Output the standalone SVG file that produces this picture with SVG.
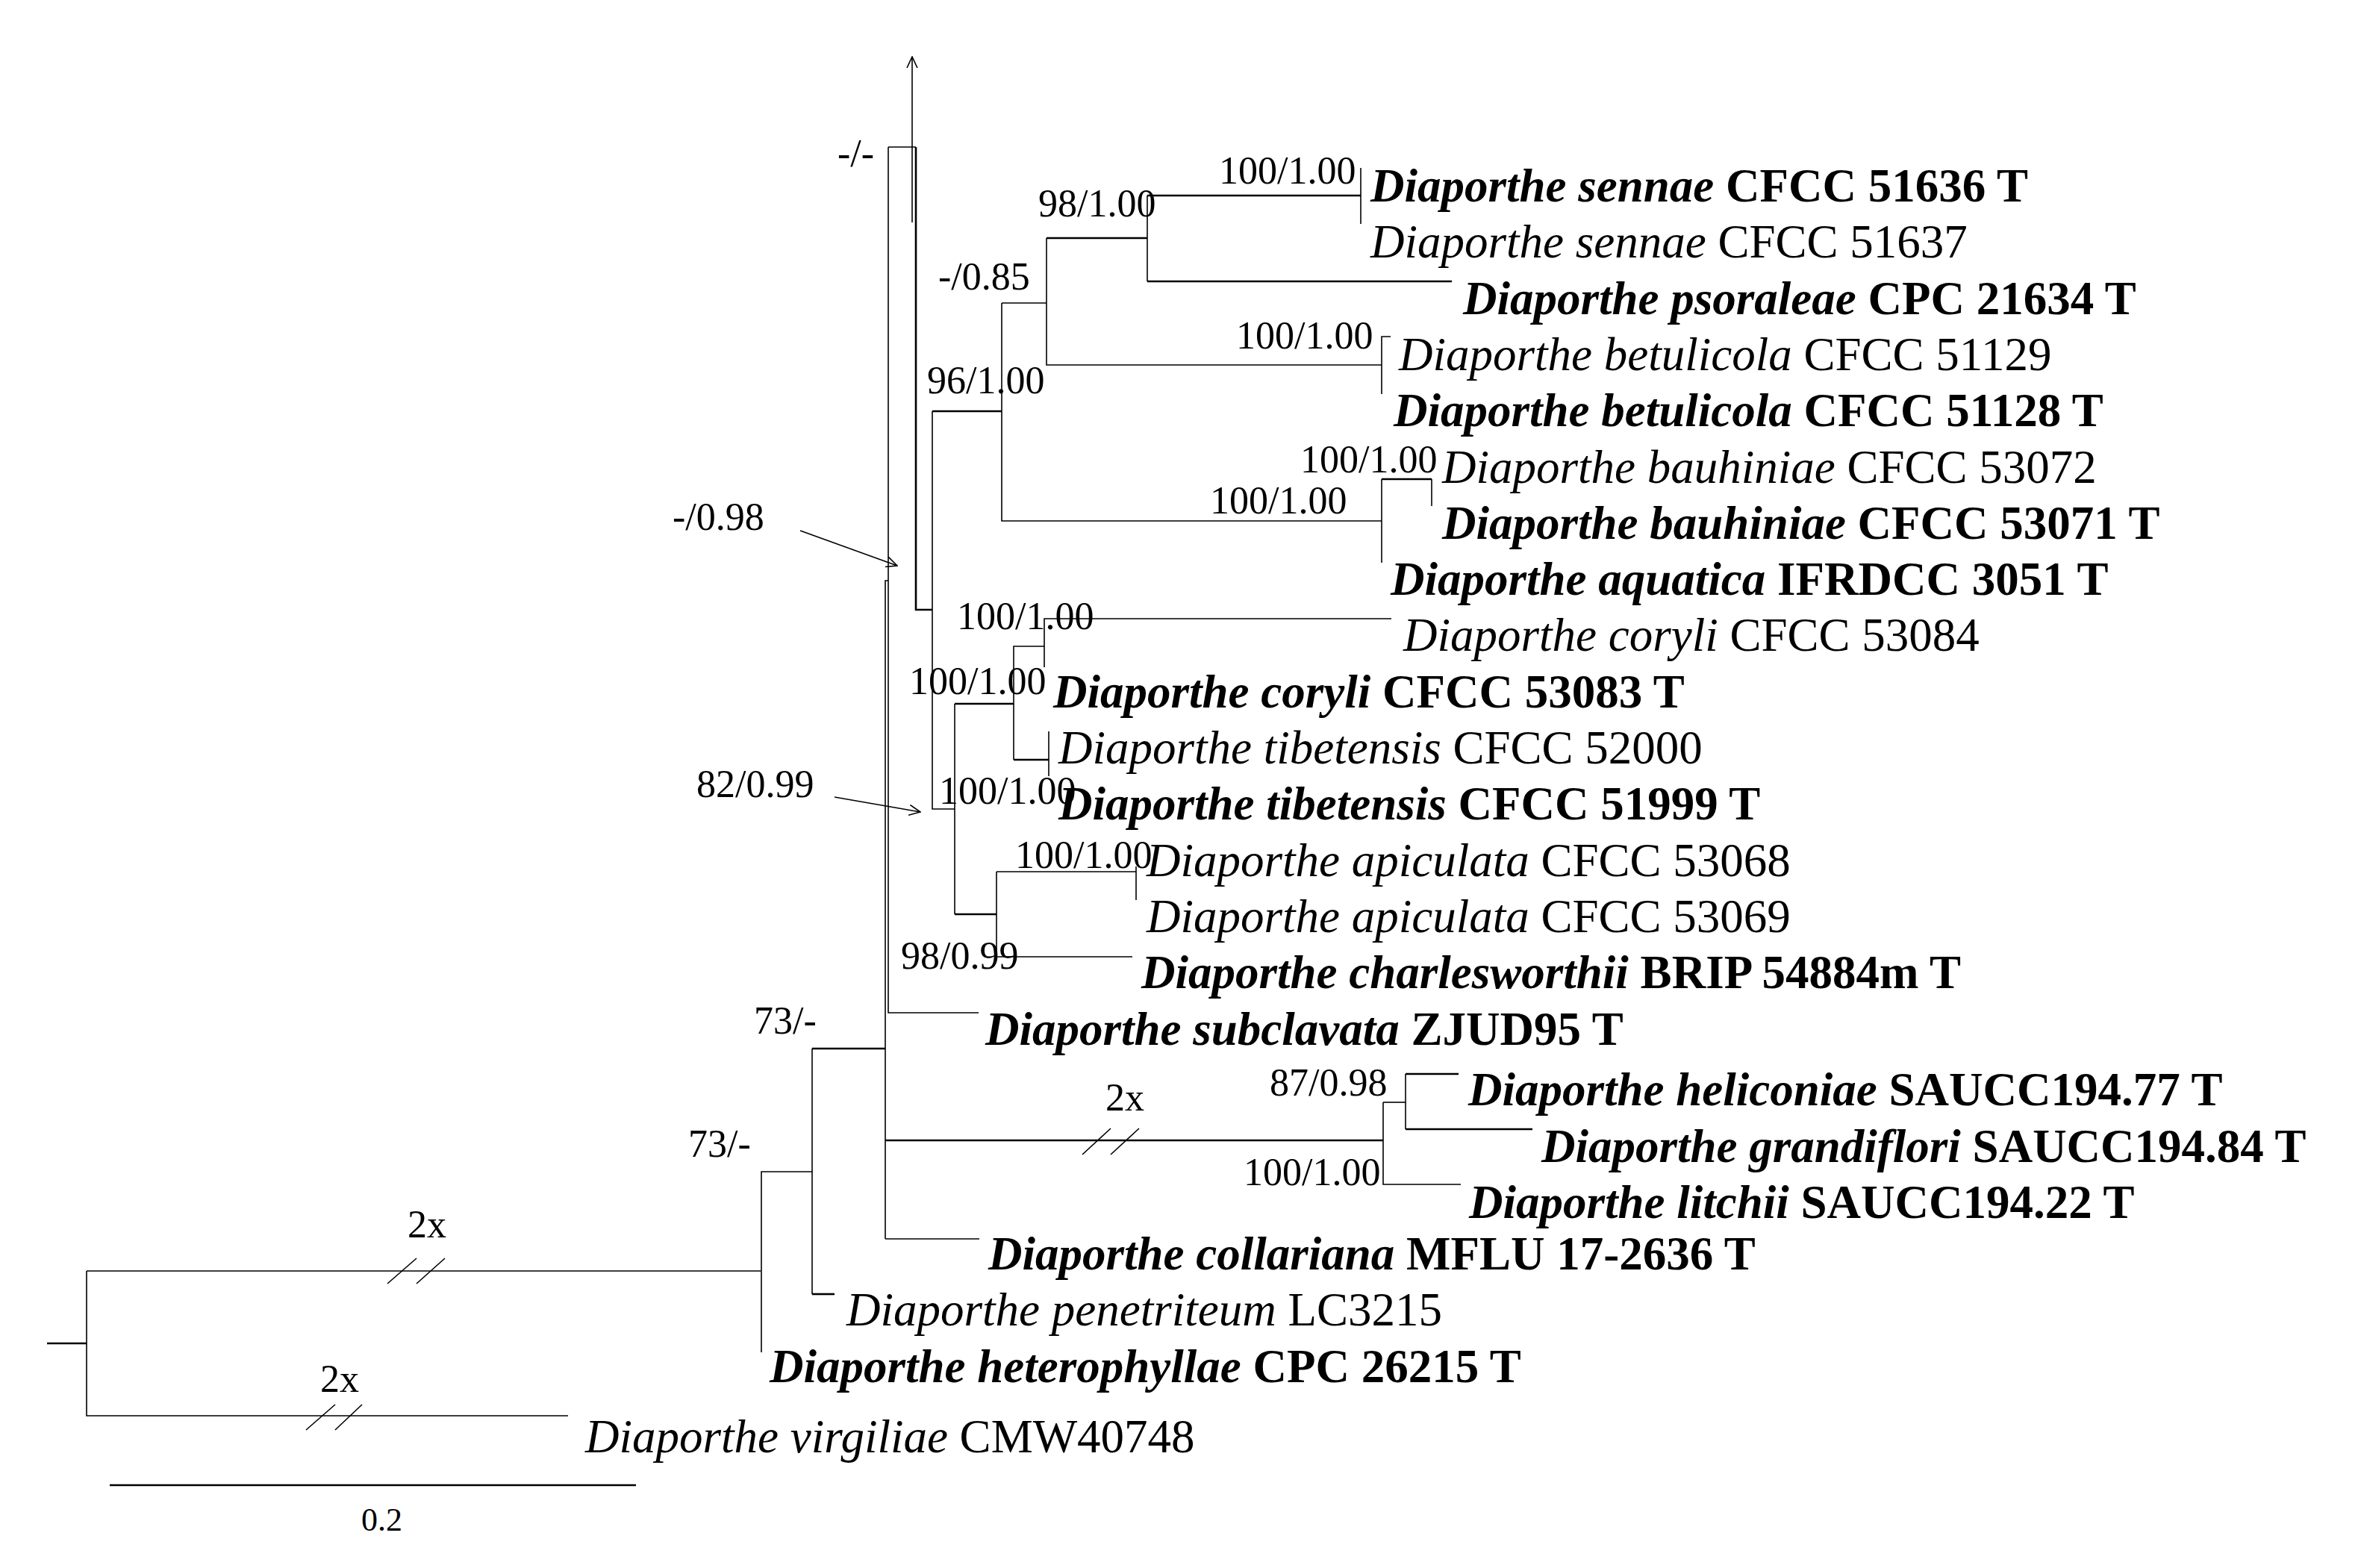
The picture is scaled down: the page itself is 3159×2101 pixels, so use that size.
<svg xmlns="http://www.w3.org/2000/svg" width="3159" height="2101" viewBox="0 0 3159 2101">
<style>
text{font-family:"Liberation Serif","Times New Roman",serif;fill:#000}
.tx{font-size:63px}
.b{font-weight:bold}
.i{font-style:italic}
.sup{font-size:52px}
.scl{font-size:44px}
.thin{stroke:#000;stroke-width:1.6;fill:none}
.thick{stroke:#000;stroke-width:2.6;fill:none}
</style>
<defs>
<marker id="oa" viewBox="0 0 16 16" refX="15" refY="8" markerWidth="16" markerHeight="16" markerUnits="userSpaceOnUse" orient="auto">
<path d="M0,1 L15,8 L0,15" fill="none" stroke="#000" stroke-width="1.6"/>
</marker>
</defs>
<rect width="3159" height="2101" fill="#fff"/>
<g id="connectors">
<path class="thin" d="M1190,197 V1357 H1311"/>
<path class="thin" d="M1186,1660 V778 H1190"/>
<path class="thin" d="M1186,1660 H1312"/>
<path class="thin" d="M1190,197 H1227"/>
<path class="thick" d="M1227,197 V817 H1249"/>
<path class="thin" d="M1249,551 V1084 H1279"/>
<path class="thick" d="M1249,551 H1342"/>
<path class="thin" d="M1342,406 V698 H1851"/>
<path class="thin" d="M1342,406 H1402"/>
<path class="thin" d="M1402,319 V489 H1851"/>
<path class="thick" d="M1402,319 H1537"/>
<path class="thin" d="M1537,262 V377"/>
<path class="thick" d="M1537,262 H1823"/>
<path class="thin" d="M1823,225 V300"/>
<path class="thick" d="M1537,377 H1945"/>
<path class="thin" d="M1863,451 H1851 V528"/>
<path class="thin" d="M1851,642 V754"/>
<path class="thick" d="M1851,642 H1918"/>
<path class="thin" d="M1918,642 V678"/>
<path class="thin" d="M1279,943 V1225"/>
<path class="thick" d="M1279,943 H1358"/>
<path class="thin" d="M1358,1018 V866 H1399"/>
<path class="thin" d="M1399,894 V829 H1864"/>
<path class="thick" d="M1358,1018 H1405"/>
<path class="thin" d="M1405,980 V1040"/>
<path class="thick" d="M1279,1225 H1335"/>
<path class="thin" d="M1335,1168 V1282 H1517"/>
<path class="thin" d="M1335,1168 H1522"/>
<path class="thin" d="M1522,1161 V1206"/>
<path class="thick" d="M63,1800 H116"/>
<path class="thin" d="M116,1703 V1897 H761"/>
<path class="thin" d="M116,1703 H1019"/>
<path class="thin" d="M1020,1812 V1570 H1088"/>
<path class="thin" d="M1088,1405 V1734"/>
<path class="thick" d="M1088,1734 H1118"/>
<path class="thick" d="M1088,1405 H1186"/>
<path class="thick" d="M1186,1528 H1853"/>
<path class="thin" d="M1853,1477 V1587 H1957"/>
<path class="thin" d="M1853,1477 H1883"/>
<path class="thin" d="M1883,1439 V1513"/>
<path class="thick" d="M1883,1439 H1954"/>
<path class="thick" d="M1883,1513 H2053"/>
<path class="thin" d="M519,1720 L558,1686 M558,1720 L596,1686"/>
<path class="thin" d="M410,1916 L449,1882 M449,1916 L485,1882"/>
<path class="thin" d="M1450,1547 L1488,1512 M1488,1547 L1526,1512"/>
<path class="thin" d="M1222,298 V76" marker-end="url(#oa)"/>
<path class="thin" d="M1072,711 L1202,758" marker-end="url(#oa)"/>
<path class="thin" d="M1118,1068 L1233,1088" marker-end="url(#oa)"/>
<path class="thick" d="M147,1990 H852"/>
</g>
<g id="t01"><text class="tx b" x="1836" y="270"><tspan class="i">Diaporthe sennae</tspan> CFCC 51636 T</text></g>
<g id="t02"><text class="tx" x="1836" y="345"><tspan class="i">Diaporthe sennae</tspan> CFCC 51637</text></g>
<g id="t03"><text class="tx b" x="1960" y="421"><tspan class="i">Diaporthe psoraleae</tspan> CPC 21634 T</text></g>
<g id="t04"><text class="tx" x="1874" y="496"><tspan class="i">Diaporthe betulicola</tspan> CFCC 51129</text></g>
<g id="t05"><text class="tx b" x="1867" y="571"><tspan class="i">Diaporthe betulicola</tspan> CFCC 51128 T</text></g>
<g id="t06"><text class="tx" x="1932" y="647"><tspan class="i">Diaporthe bauhiniae</tspan> CFCC 53072</text></g>
<g id="t07"><text class="tx b" x="1932" y="722"><tspan class="i">Diaporthe bauhiniae</tspan> CFCC 53071 T</text></g>
<g id="t08"><text class="tx b" x="1863" y="797"><tspan class="i">Diaporthe aquatica</tspan> IFRDCC 3051 T</text></g>
<g id="t09"><text class="tx" x="1880" y="872"><tspan class="i">Diaporthe coryli</tspan> CFCC 53084</text></g>
<g id="t10"><text class="tx b" x="1411" y="948"><tspan class="i">Diaporthe coryli</tspan> CFCC 53083 T</text></g>
<g id="t11"><text class="tx" x="1418" y="1023"><tspan class="i">Diaporthe tibetensis</tspan> CFCC 52000</text></g>
<g id="t12"><text class="tx b" x="1418" y="1098"><tspan class="i">Diaporthe tibetensis</tspan> CFCC 51999 T</text></g>
<g id="t13"><text class="tx" x="1536" y="1174"><tspan class="i">Diaporthe apiculata</tspan> CFCC 53068</text></g>
<g id="t14"><text class="tx" x="1536" y="1249"><tspan class="i">Diaporthe apiculata</tspan> CFCC 53069</text></g>
<g id="t15"><text class="tx b" x="1529" y="1324"><tspan class="i">Diaporthe charlesworthii</tspan> BRIP 54884m T</text></g>
<g id="t16"><text class="tx b" x="1320" y="1400"><tspan class="i">Diaporthe subclavata</tspan> ZJUD95 T</text></g>
<g id="t17"><text class="tx b" x="1967" y="1481"><tspan class="i">Diaporthe heliconiae</tspan> SAUCC194.77 T</text></g>
<g id="t18"><text class="tx b" x="2065" y="1557"><tspan class="i">Diaporthe grandiflori</tspan> SAUCC194.84 T</text></g>
<g id="t19"><text class="tx b" x="1968" y="1632"><tspan class="i">Diaporthe litchii</tspan> SAUCC194.22 T</text></g>
<g id="t20"><text class="tx b" x="1324" y="1701"><tspan class="i">Diaporthe collariana</tspan> MFLU 17-2636 T</text></g>
<g id="t21"><text class="tx" x="1134" y="1776"><tspan class="i">Diaporthe penetriteum</tspan> LC3215</text></g>
<g id="t22"><text class="tx b" x="1031" y="1852"><tspan class="i">Diaporthe heterophyllae</tspan> CPC 26215 T</text></g>
<g id="t23"><text class="tx" x="784" y="1946"><tspan class="i">Diaporthe virgiliae</tspan> CMW40748</text></g>
<g id="supports">
<text class="sup" x="1122" y="223">-/-</text>
<text class="sup" x="1633" y="246">100/1.00</text>
<text class="sup" x="1391" y="290">98/1.00</text>
<text class="sup" x="1257" y="388">-/0.85</text>
<text class="sup" x="1656" y="467">100/1.00</text>
<text class="sup" x="1242" y="527">96/1.00</text>
<text class="sup" x="1742" y="633">100/1.00</text>
<text class="sup" x="1621" y="688">100/1.00</text>
<text class="sup" x="901" y="710">-/0.98</text>
<text class="sup" x="1282" y="843">100/1.00</text>
<text class="sup" x="1218" y="930">100/1.00</text>
<text class="sup" x="933" y="1068">82/0.99</text>
<text class="sup" x="1258" y="1077">100/1.00</text>
<text class="sup" x="1360" y="1163">100/1.00</text>
<text class="sup" x="1207" y="1298">98/0.99</text>
<text class="sup" x="1010" y="1385">73/-</text>
<text class="sup" x="1701" y="1468">87/0.98</text>
<text class="sup" x="1481" y="1488">2x</text>
<text class="sup" x="922" y="1550">73/-</text>
<text class="sup" x="1666" y="1588">100/1.00</text>
<text class="sup" x="546" y="1658">2x</text>
<text class="sup" x="429" y="1865">2x</text>
</g>
<g id="scale"><text class="scl" x="484" y="2051">0.2</text></g>
</svg>
